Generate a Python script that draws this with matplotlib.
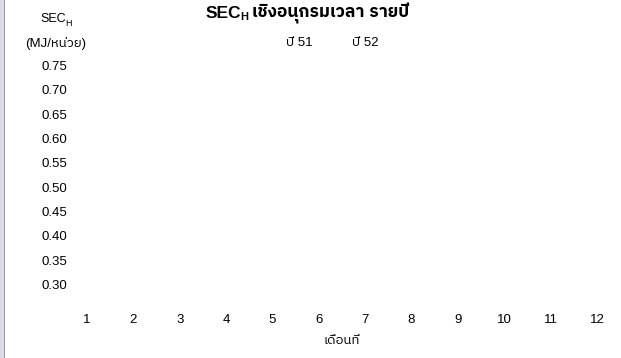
import matplotlib
matplotlib.use("Agg")
import matplotlib.pyplot as plt
from matplotlib import font_manager as fm
from matplotlib.lines import Line2D
from matplotlib.patches import Rectangle

# --- data -------------------------------------------------------------
months = list(range(1, 13))
month_labels = [str(m) for m in months]
yticks = [0.30, 0.35, 0.40, 0.45, 0.50, 0.55, 0.60, 0.65, 0.70, 0.75]
series_names = ["ปี 51", "ปี 52"]
year51 = []   # no readings recorded
year52 = []

title_main = "SEC"
title_sub = "H"
title_rest = " เชิงอนุกรมเวลา รายปี"
ylabel_main = "SEC"
ylabel_sub = "H"
ylabel_unit = "(MJ/หน่วย)"
xlabel = "เดือนที่"


def thai_family():
    try:
        from fontTools.ttLib import TTFont
    except Exception:
        return None
    found = []
    for f in fm.fontManager.ttflist:
        try:
            tt = TTFont(f.fname, fontNumber=0, lazy=True)
            cmap = tt.getBestCmap() or {}
            if 0x0E40 in cmap and 0x0E48 in cmap:
                found.append(f)
        except Exception:
            continue
    if not found:
        return None
    def score(f):
        n = f.name.lower()
        s = 0
        if "sans" in n:
            s -= 2
        if "looped" in n:
            s += 1
        if f.weight not in (400, "normal", "regular"):
            s += 1
        return s
    found.sort(key=score)
    return found[0].name


thai = thai_family()
families = ["Liberation Sans"] + ([thai] if thai else []) + ["DejaVu Sans"]
plt.rcParams["font.family"] = families

W, H = 621, 358
fig = plt.figure(figsize=(W / 100, H / 100), dpi=100)
fig.patch.set_facecolor("white")

# left frame strip
fig.patches.append(Rectangle((0, 0), 4 / W, 1, transform=fig.transFigure,
                             facecolor="#dedbe9", edgecolor="none"))
fig.patches.append(Rectangle((4 / W, 0), 1.2 / W, 1, transform=fig.transFigure,
                             facecolor="#9a9a9a", edgecolor="none"))

x0, x1 = 87, 597
ytop, ybot = 65.5, 284.5
ax = fig.add_axes([x0 / W, (H - ybot) / H, (x1 - x0) / W, (ybot - ytop) / H])
ax.set_xlim(1, 12)
ax.set_ylim(0.30, 0.75)
for s in ax.spines.values():
    s.set_visible(False)
ax.patch.set_visible(False)

ax.plot(months[:len(year51)], year51, color="#1f3f99", marker="o")
ax.plot(months[:len(year52)], year52, color="#cc2222", marker="s")

ax.set_xticks(months)
ax.set_xticklabels(month_labels)
ax.set_yticks(yticks)
ax.set_yticklabels([f"{v:.2f}" for v in yticks])
ax.tick_params(axis="both", length=0, labelsize=9.5, colors="black")
ax.tick_params(axis="y", pad=14.4)
ax.tick_params(axis="x", pad=21.5)

def px(x, y):
    return x / W, (H - y) / H

# x-axis title
fig.text(*px(342, 341), xlabel, ha="center", va="center", fontsize=9.5)

# y-axis title with subscript
t = fig.text(*px(40, 19), ylabel_main, ha="left", va="center", fontsize=9)
fig.canvas.draw()
r = fig.canvas.get_renderer()
bb = t.get_window_extent(r)
fig.text(bb.x1 / W, (H - 23) / H, ylabel_sub, ha="left", va="center", fontsize=6.5)
fig.text(*px(56, 43), ylabel_unit, ha="center", va="center", fontsize=9.5)

# chart title: bold with subscript
tm = fig.text(*px(206, 13), title_main, ha="left", va="center",
              fontsize=12.5, fontweight="bold")
fig.canvas.draw()
bb = tm.get_window_extent(r)
ts = fig.text((bb.x1 - 1.5) / W, (H - 17.5) / H, title_sub, ha="left", va="center",
              fontsize=8, fontweight="bold")
fig.canvas.draw()
bb2 = ts.get_window_extent(r)
fig.text((bb2.x1 - 1) / W, (H - 13) / H, title_rest, ha="left", va="center",
         fontsize=12.5, fontweight="bold")

# legend entries (text only)
handles = [Line2D([], [], linestyle="none") for _ in series_names]
leg = fig.legend(handles, series_names, loc="center left",
                 bbox_to_anchor=px(279, 43), ncol=2, frameon=False,
                 handlelength=0, handletextpad=0, columnspacing=3.0,
                 fontsize=9.5, borderpad=0)

fig.savefig("out.png", dpi=100, facecolor="white")
